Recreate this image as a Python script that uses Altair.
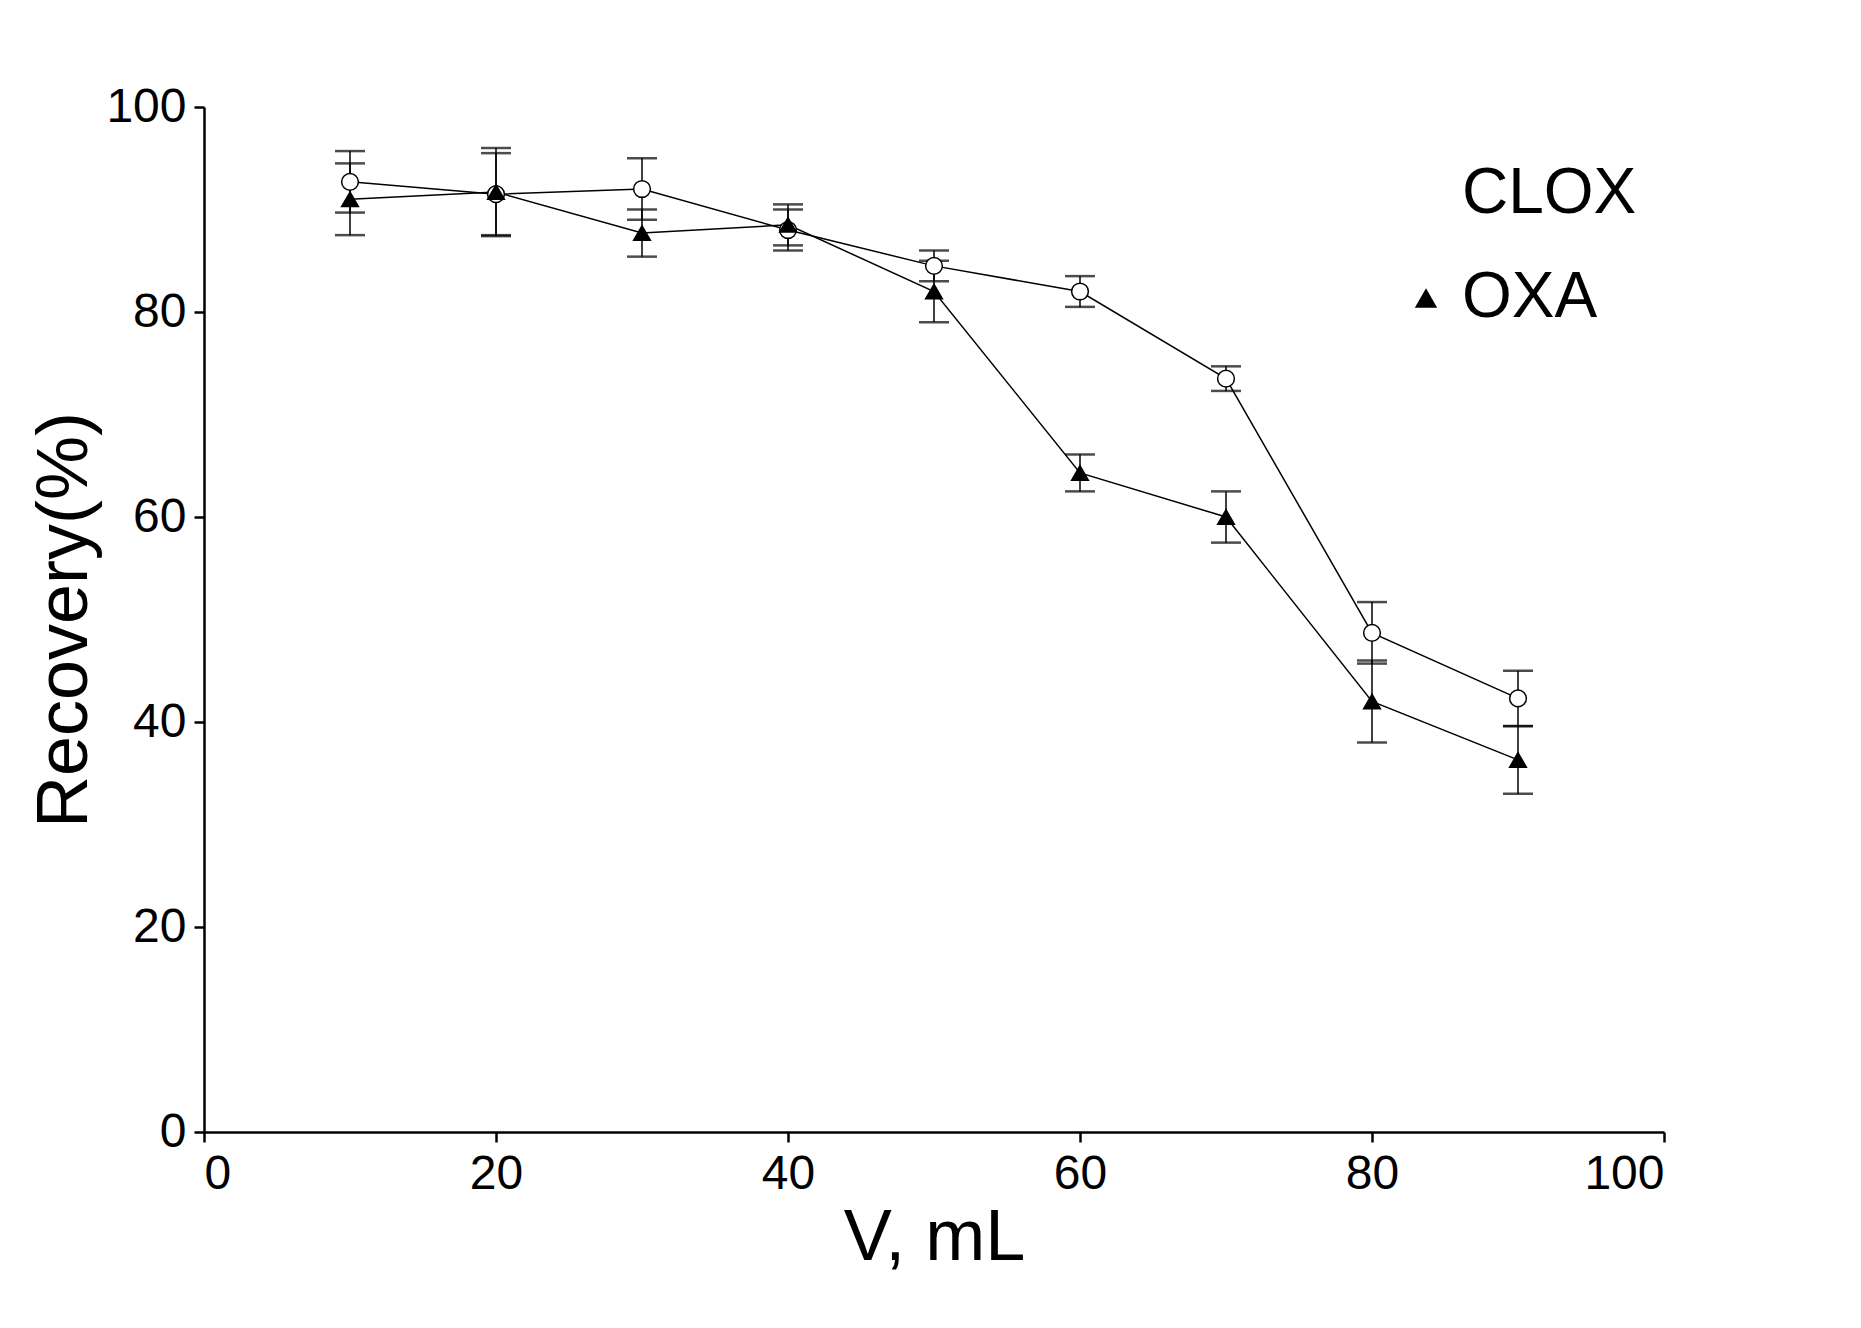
import altair as alt
import pandas as pd

volume = [10, 20, 30, 40, 50, 60, 70, 80, 90]
clox = [92.7, 91.5, 92.0, 88.0, 84.5, 82.0, 73.5, 48.7, 42.3]
clox_err = [3.0, 4.0, 3.0, 2.0, 1.5, 1.5, 1.2, 3.0, 2.7]
oxa = [91.0, 91.7, 87.7, 88.5, 82.0, 64.3, 60.0, 42.0, 36.3]
oxa_err = [3.5, 4.3, 2.3, 2.0, 3.0, 1.8, 2.5, 4.0, 3.3]

rows = []
for name, vals, errs in [("CLOX", clox, clox_err), ("OXA", oxa, oxa_err)]:
    for v, r, e in zip(volume, vals, errs):
        rows.append({"V": v, "R": r, "lo": r - e, "hi": r + e, "drug": name})
df = pd.DataFrame(rows)

x = alt.X("V:Q", scale=alt.Scale(domain=[0, 100]), title="V, mL",
          axis=alt.Axis(values=[0, 20, 40, 60, 80, 100], grid=False))
y = alt.Y("R:Q", scale=alt.Scale(domain=[0, 100]), title="Recovery(%)",
          axis=alt.Axis(values=[0, 20, 40, 60, 80, 100], grid=False))

base = alt.Chart(df)
line = base.mark_line(color="black", strokeWidth=1.5).encode(x=x, y=y, detail="drug:N")
bars = base.mark_rule(color="black", strokeWidth=1.5).encode(x="V:Q", y="lo:Q", y2="hi:Q")
cap_lo = base.mark_tick(color="black", size=30, thickness=2.5, orient="horizontal").encode(x="V:Q", y="lo:Q")
cap_hi = base.mark_tick(color="black", size=30, thickness=2.5, orient="horizontal").encode(x="V:Q", y="hi:Q")
pts = base.mark_point(size=280, strokeWidth=1.5, opacity=1, color="black").encode(
    x="V:Q", y="R:Q",
    shape=alt.Shape("drug:N", scale=alt.Scale(domain=["CLOX", "OXA"], range=["circle", "triangle-up"]),
                    legend=alt.Legend(title=None, orient="none", legendX=1190, legendY=55,
                                      labelFontSize=64, symbolSize=500, rowPadding=40, labelLimit=0,
                                      symbolStrokeColor="black", labelFont="Liberation Sans",
                                      labelColor="black")),
    fill=alt.Fill("drug:N", scale=alt.Scale(domain=["CLOX", "OXA"], range=["white", "black"]), legend=None),
)

chart = alt.layer(line, bars, cap_lo, cap_hi, pts).properties(
    width=1460, height=1025, background="white",
    padding={"left": 20, "top": 75, "right": 5, "bottom": 5}
).configure_view(
    stroke=None
).configure_axis(
    labelFontSize=48, titleFontSize=72, labelFont="Liberation Sans", titleFont="Liberation Sans",
    labelColor="black", titleColor="black", domainColor="black", tickColor="black",
    domainWidth=2.5, tickWidth=2.5, tickSize=10, titleFontWeight="normal", labelPadding=8
)

chart.save("out.html", embed_options={"renderer": "svg", "actions": False})
